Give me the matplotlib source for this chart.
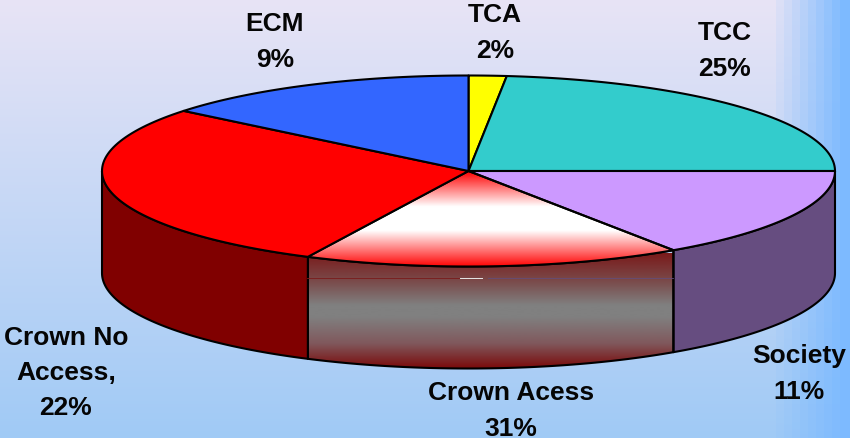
import numpy as np
import matplotlib
matplotlib.use("Agg")
import matplotlib.pyplot as plt
from matplotlib.colors import LinearSegmentedColormap
from matplotlib.patches import Polygon

plt.rcParams['font.family'] = ['Liberation Sans', 'DejaVu Sans']

# Slice order runs clockwise from 12 o'clock
categories = ["TCA", "TCC", "Society", "Crown Acess", "Crown No\nAccess,", "ECM"]
percent_labels = [2, 25, 11, 31, 22, 9]
# Drawn slice spans in degrees, as measured in the picture
drawn_spans = [6, 84, 56, 60, 103, 51]
top_colors = ["#ffff00", "#33cccc", "#cc99ff", None, "#ff0000", "#3366ff"]
side_colors = ["#808000", "#1a6666", "#664d80", None, "#800000", "#1a3380"]
label_x = [495, 725, 799, 511, 66, 275]
label_y = [33, 51, 374, 411, 373, 42]

CX, CY, RX, RY, DEPTH = 468.5, 172.0, 366.5, 95.5, 102.0
EDGE = "black"
LW = 1.5

fig = plt.figure(figsize=(8.5, 4.39), dpi=100)
ax = fig.add_axes([0, 0, 1, 1])
ax.set_xlim(0, 850)
ax.set_ylim(439, 0)
ax.axis("off")

# Background: vertical lavender to blue, with a banded blue strip at the right
c_top = np.array([232, 228, 245]) / 255
c_bot = np.array([160, 202, 246]) / 255
c_right = np.array([125, 186, 255]) / 255
h, w = 439, 850
ty = np.linspace(0, 1, h)[:, None, None]
bg = c_top[None, None, :] * (1 - ty) + c_bot[None, None, :] * ty
bg = np.repeat(bg, w, axis=1)
tx = np.clip((np.arange(w) - 768) / 72, 0, 1)
tx = np.floor(tx * 9) / 9
tx = tx[None, :, None]
bg = bg * (1 - tx) + c_right[None, None, :] * tx
ax.imshow(bg, extent=(0, 850, 439, 0), aspect="auto", zorder=0)


def ell(angles_deg, dy=0.0):
    a = np.radians(angles_deg)
    return np.column_stack([CX + RX * np.cos(a), CY - RY * np.sin(a) + dy])


def gradient(stops, y0, y1):
    cmap = LinearSegmentedColormap.from_list("g", stops, N=512)
    return np.linspace(0, 1, 512)[:, None], cmap, (0, 850, y1, y0)


starts = 90 - np.concatenate([[0], np.cumsum(drawn_spans)[:-1]])
ends = starts - np.array(drawn_spans)

# Side walls
for i, (s, e) in enumerate(zip(starts, ends)):
    lo, hi = max(e, -180), min(s, 0)
    if hi <= lo:
        continue
    th = np.linspace(hi, lo, 80)
    pts = np.vstack([ell(th), ell(th[::-1], DEPTH)])
    if side_colors[i] is None:
        data, cmap, ext = gradient([(0, "#7a1a1a"), (0.25, "#7a4c4c"), (0.45, "#808080"),
                                    (0.55, "#808080"), (0.78, "#80585c"), (1, "#7a0808")], 254, 370)
        im = ax.imshow(data, cmap=cmap, extent=ext, aspect="auto", zorder=2)
        poly = Polygon(pts, closed=True, fc="none", ec=EDGE, lw=LW, zorder=3, joinstyle="round")
        ax.add_patch(poly)
        im.set_clip_path(poly)
    else:
        ax.add_patch(Polygon(pts, closed=True, fc=side_colors[i], ec=EDGE, lw=LW, zorder=3, joinstyle="round"))

# Faint seam across the front wall
ax.plot([307, 460], [279, 279], color="#7a1a1a", lw=0.6, zorder=4)
ax.plot([460, 482], [279, 279], color="#e8e8e8", lw=0.7, zorder=4)
ax.plot([488, 673], [279, 279], color="#644d78", lw=0.6, zorder=4)

# Top faces
for i, (s, e) in enumerate(zip(starts, ends)):
    th = np.linspace(s, e, 80)
    pts = np.vstack([[CX, CY], ell(th)])
    if top_colors[i] is None:
        data, cmap, ext = gradient([(0, "#ff0000"), (0.37, "#ffffff"), (0.62, "#ffffff"), (1, "#ff0000")], 172, 268)
        im = ax.imshow(data, cmap=cmap, extent=ext, aspect="auto", zorder=5)
        poly = Polygon(pts, closed=True, fc="none", ec=EDGE, lw=LW, zorder=6, joinstyle="round")
        ax.add_patch(poly)
        im.set_clip_path(poly)
    else:
        ax.add_patch(Polygon(pts, closed=True, fc=top_colors[i], ec=EDGE, lw=LW, zorder=6, joinstyle="round"))

ax.set_xlim(0, 850)
ax.set_ylim(439, 0)

# Labels
for name, pct, x, y in zip(categories, percent_labels, label_x, label_y):
    ax.text(x, y, f"{name}\n{pct}%", ha="center", va="center", fontsize=19,
            fontweight="bold", color="#050505", linespacing=1.58, zorder=8)

fig.savefig("out.png", dpi=100)
